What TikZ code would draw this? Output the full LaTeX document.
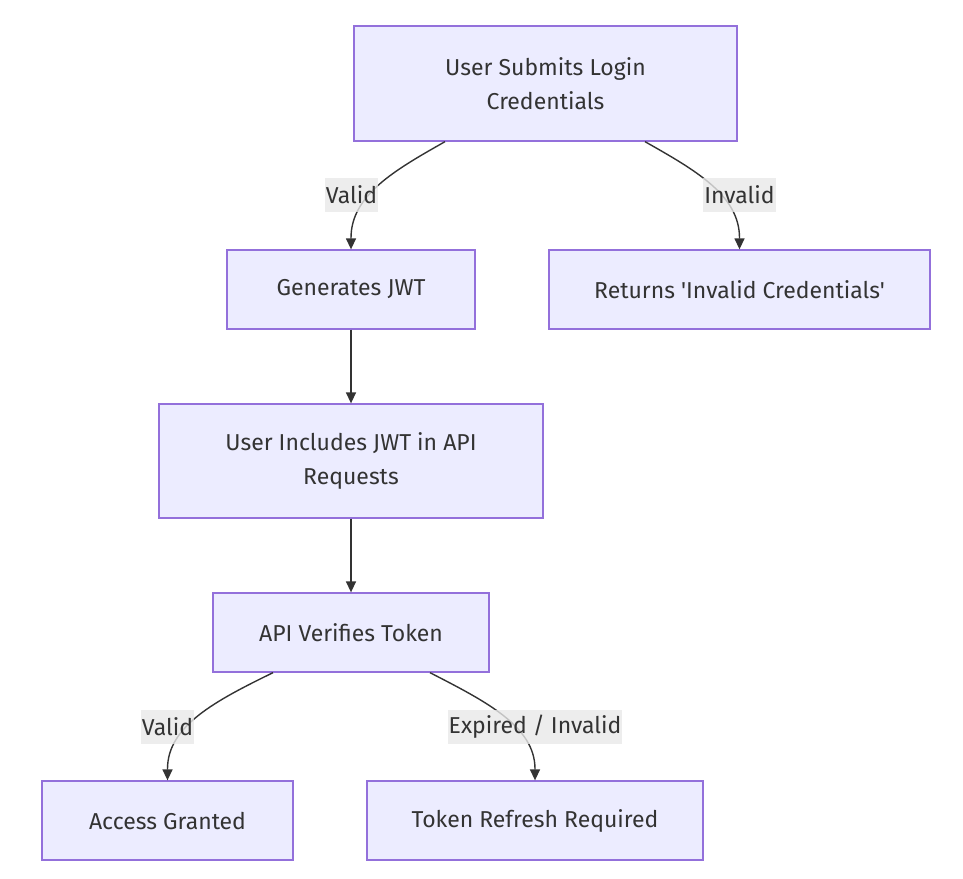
\documentclass[tikz,border=0pt]{standalone}
\usepackage{fontspec}
\setmainfont{Fira Sans}[Ligatures=TeXOff]
\usetikzlibrary{arrows.meta}
\definecolor{nodefill}{HTML}{ECECFF}
\definecolor{nodeborder}{HTML}{9370DB}
\definecolor{linecol}{HTML}{333333}
\definecolor{labelbg}{HTML}{E8E8E8}
\tikzset{
  box/.style={draw=nodeborder, fill=nodefill, line width=1.3pt, text=linecol,
    align=center, inner sep=0pt, font=\fontsize{23}{34}\selectfont},
  conn/.style={draw=linecol, line width=1.4pt, -{Triangle[length=11pt,width=10pt]}},
  elabel/.style={fill=labelbg, fill opacity=0.8, text opacity=1, text=linecol,
    inner xsep=1pt, inner ysep=0pt, minimum height=34pt, font=\fontsize{23}{34}\selectfont}
}
\begin{document}
\begin{tikzpicture}[x=1pt,y=-1pt]
\useasboundingbox (0,0) rectangle (963,878);
\node[box, minimum width=383pt, minimum height=115pt] (login) at (545.5,83.5) {User Submits Login\\Credentials};
\node[box, minimum width=248pt, minimum height=79pt] (gen) at (351,289.5) {Generates JWT};
\node[box, minimum width=381pt, minimum height=79pt] (ret) at (739.5,289.5) {Returns 'Invalid Credentials'};
\node[box, minimum width=384pt, minimum height=114pt] (incl) at (351,461) {User Includes JWT in API\\Requests};
\node[box, minimum width=276pt, minimum height=79pt] (api) at (351,632.5) {API Verifies Token};
\node[box, minimum width=251pt, minimum height=79pt] (acc) at (167.5,820.5) {Access Granted};
\node[box, minimum width=336pt, minimum height=79pt] (tok) at (535,820.5) {Token Refresh Required};

\draw[conn] ([xshift=-100.5pt]login.south) .. controls (395,170) and (351,195) .. (351,238) -- (gen.north);
\draw[conn] ([xshift=99.5pt]login.south) .. controls (695,170) and (739.5,195) .. (739.5,238) -- (ret.north);
\draw[conn] (gen.south) -- (incl.north);
\draw[conn] (incl.south) -- (api.north);
\draw[conn] ([xshift=-78pt]api.south) .. controls (215,701) and (167.5,726) .. (167.5,769) -- (acc.north);
\draw[conn] ([xshift=79pt]api.south) .. controls (485,701) and (535,726) .. (535,769) -- (tok.north);

\node[elabel] (l1) at (351.5,195) {Valid};
\node[elabel] (l2) at (739.5,195) {Invalid};
\node[elabel] (l3) at (167.5,726.5) {Valid};
\node[elabel] (l4) at (535,726.5) {Expired / Invalid};
\end{tikzpicture}
\end{document}
